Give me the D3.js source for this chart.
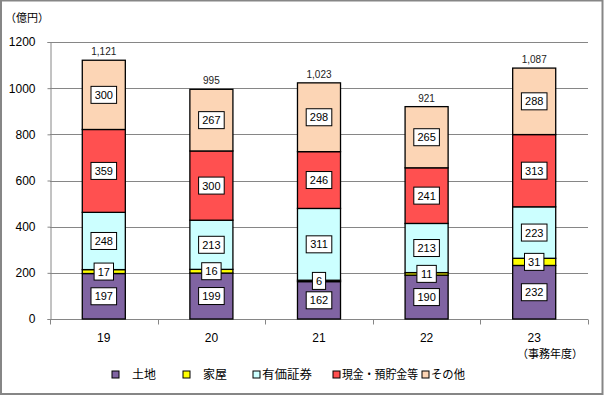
<!DOCTYPE html>
<html>
<head>
<meta charset="utf-8">
<script src="https://cdn.jsdelivr.net/npm/d3@7"></script>
<style>
  body { margin: 0; background: #fff; }
  svg { display: block; font-family: "Liberation Sans", "Noto Sans CJK JP", sans-serif; }
</style>
</head>
<body>
<svg width="604" height="396"></svg>
<script>
// data (億円)
var years = ["19", "20", "21", "22", "23"],
    seriesNames = ["土地", "家屋", "有価証券", "現金・預貯金等", "その他"],
    land = [197, 199, 162, 190, 232],
    house = [17, 16, 6, 11, 31],
    securities = [248, 213, 311, 213, 223],
    cash = [359, 300, 246, 241, 313],
    other = [300, 267, 298, 265, 288],
    totals = ["1,121", "995", "1,023", "921", "1,087"],
    yTicks = [0, 200, 400, 600, 800, 1000, 1200];

var colors = ["#8064a2", "#ffff00", "#ccffff", "#ff5050", "#fcd5b5"];

var svg = d3.select("svg"),
    margin = {top: 42, right: 16, bottom: 77, left: 50},
    width = 604 - margin.left - margin.right,
    height = 396 - margin.top - margin.bottom;

// outer frame
svg.append("rect")
    .attr("x", 1).attr("y", 0.5)
    .attr("width", 601.5).attr("height", 393.5)
    .attr("fill", "none")
    .attr("stroke", "#868686")
    .attr("stroke-width", 2);

var rows = years.map(function(y, i) {
  return {year: y, "土地": land[i], "家屋": house[i], "有価証券": securities[i],
          "現金・預貯金等": cash[i], "その他": other[i], total: totals[i]};
});

var stack = d3.stack().keys(seriesNames)(rows);

var x = d3.scaleBand().domain(years).range([0, width]).paddingInner(0.6).paddingOuter(0.3),
    xb = d3.scaleBand().domain(years).range([0, width]),
    y = d3.scaleLinear().domain([0, 1200]).range([height, 0]);

var g = svg.append("g").attr("transform", "translate(" + margin.left + "," + margin.top + ")");

// gridlines
g.append("g").selectAll("line")
    .data(yTicks.slice(1))
    .enter().append("line")
    .attr("x1", 0).attr("x2", width)
    .attr("y1", function(d) { return Math.round(y(d)) + 0.5; })
    .attr("y2", function(d) { return Math.round(y(d)) + 0.5; })
    .attr("stroke", "#868686");

// y axis
var yAxis = g.append("g")
    .attr("transform", "translate(0.5,0)")
    .call(d3.axisLeft(y).tickValues(yTicks).tickSize(3).tickPadding(12).tickFormat(d3.format("d")));
yAxis.select(".domain").attr("stroke", "#868686");
yAxis.selectAll(".tick line").attr("stroke", "#868686");
yAxis.selectAll(".tick text").attr("font-size", 12).attr("fill", "#000");

// x axis with ticks at category boundaries
var xAxisG = g.append("g").attr("transform", "translate(0," + (Math.round(height) + 0.5) + ")");
xAxisG.append("line").attr("x1", 0).attr("x2", width).attr("stroke", "#868686");
xAxisG.selectAll(".bt")
    .data(years.concat(["end"]))
    .enter().append("line")
    .attr("class", "bt")
    .attr("x1", function(d, i) { return Math.round(i * xb.step()) + 0.5; })
    .attr("x2", function(d, i) { return Math.round(i * xb.step()) + 0.5; })
    .attr("y1", 0).attr("y2", 5)
    .attr("stroke", "#868686");
xAxisG.selectAll("text")
    .data(years)
    .enter().append("text")
    .attr("x", function(d) { return xb(d) + xb.bandwidth() / 2; })
    .attr("y", 22)
    .attr("text-anchor", "middle")
    .attr("font-size", 12)
    .text(function(d) { return d; });

// bars
var layer = g.selectAll(".layer")
    .data(stack)
    .enter().append("g")
    .attr("class", "layer")
    .attr("fill", function(d, i) { return colors[i]; });

layer.selectAll("rect")
    .data(function(d) { return d; })
    .enter().append("rect")
    .attr("x", function(d) { return x(d.data.year); })
    .attr("y", function(d) { return y(d[1]); })
    .attr("width", x.bandwidth())
    .attr("height", function(d) { return y(d[0]) - y(d[1]); })
    .attr("stroke", "#000")
    .attr("stroke-width", 1.3);

// segment labels in white boxes
stack.forEach(function(s) {
  s.forEach(function(d) {
    var v = d[1] - d[0],
        cx = x(d.data.year) + x.bandwidth() / 2,
        cy = (y(d[0]) + y(d[1])) / 2,
        txt = String(v),
        w = txt.length * 6.2 + 7;
    var lg = g.append("g").attr("transform", "translate(" + cx + "," + cy + ")");
    lg.append("rect")
        .attr("x", -w / 2).attr("y", -8.5)
        .attr("width", w).attr("height", 17)
        .attr("fill", "#fff").attr("stroke", "#000");
    lg.append("text")
        .attr("text-anchor", "middle")
        .attr("dy", "0.36em")
        .attr("font-size", 11)
        .text(txt);
  });
});

// totals
g.selectAll(".total")
    .data(stack[stack.length - 1])
    .enter().append("text")
    .attr("class", "total")
    .attr("x", function(d) { return x(d.data.year) + x.bandwidth() / 2; })
    .attr("y", function(d) { return y(d[1]) - 5; })
    .attr("text-anchor", "middle")
    .attr("font-size", 10)
    .attr("fill", "#222")
    .text(function(d) { return d.data.total; });

// unit labels
svg.append("text")
    .attr("x", 5).attr("y", 22)
    .attr("font-size", 11)
    .attr("font-family", "Noto Sans CJK JP")
    .text("（億円）");
svg.append("text")
    .attr("x", 583).attr("y", 358)
    .attr("text-anchor", "end")
    .attr("font-size", 11)
    .attr("font-family", "Noto Sans CJK JP")
    .text("（事務年度）");

// legend
var legendX = [112, 183, 253, 333, 422],
    legendTextX = [132, 203, 262, 342, 431],
    legendTextW = [24, 24, 50, 76, 34];
var legend = svg.append("g")
    .selectAll("g")
    .data(seriesNames)
    .enter().append("g");
legend.append("rect")
    .attr("x", function(d, i) { return legendX[i]; })
    .attr("y", 371)
    .attr("width", 7).attr("height", 7)
    .attr("fill", function(d, i) { return colors[i]; })
    .attr("stroke", "#000");
legend.append("text")
    .attr("x", function(d, i) { return legendTextX[i]; })
    .attr("y", 379)
    .attr("font-size", 12)
    .attr("font-family", "Noto Sans CJK JP")
    .attr("textLength", function(d, i) { return legendTextW[i]; })
    .attr("lengthAdjust", "spacingAndGlyphs")
    .text(function(d) { return d; });
</script>
</body>
</html>
